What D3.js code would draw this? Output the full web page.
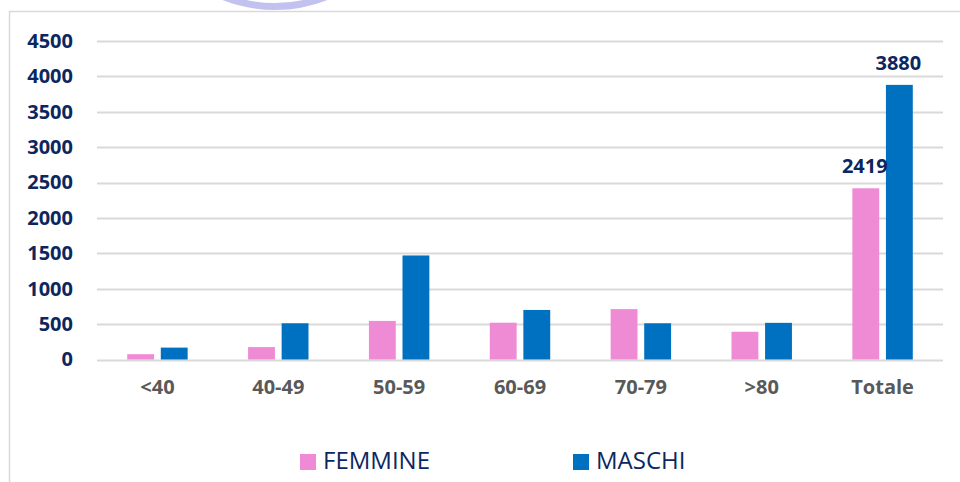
<!DOCTYPE html>
<html>
<head>
<meta charset="utf-8">
<script src="https://cdn.jsdelivr.net/npm/d3@7"></script>
<style>
    body { margin: 0; background: #fff; }
    svg { display: block; font-family: "Open Sans", sans-serif; }
</style>
</head>
<body>
<svg width="960" height="482"></svg>
<script>
// age classes and the two series
var categories = ["<40", "40-49", "50-59", "60-69", "70-79", ">80", "Totale"];
var series = ["FEMMINE", "MASCHI"];
var femmine = [75, 175, 545, 520, 712, 392, 2419];
var maschi = [168, 512, 1470, 700, 512, 518, 3880];
var yTicks = [0, 500, 1000, 1500, 2000, 2500, 3000, 3500, 4000, 4500];
var labelled = ["Totale"]; // only the totals carry value labels

var colors = { FEMMINE: "#ef8bd5", MASCHI: "#0070c0" };

var svg = d3.select("svg"),
    margin = { top: 41, right: 17, bottom: 122.5, left: 97 },
    width = +svg.attr("width") - margin.left - margin.right,
    height = +svg.attr("height") - margin.top - margin.bottom;

// faint logo ring peeking in above the frame
svg.append("clipPath").attr("id", "topclip")
    .append("rect").attr("x", 0).attr("y", 0).attr("width", 960).attr("height", 11);

svg.append("circle")
    .attr("clip-path", "url(#topclip)")
    .attr("cx", 275)
    .attr("cy", -133)
    .attr("r", 139.5)
    .attr("fill", "none")
    .attr("stroke", "#c2c2f0")
    .attr("stroke-width", 7);

// frame of the pasted chart
svg.append("path")
    .attr("d", "M9.5,482 V11.5 H960")
    .attr("fill", "none")
    .attr("stroke", "#d9d9d9")
    .attr("stroke-width", 1.5);

var g = svg.append("g").attr("transform", "translate(" + margin.left + "," + margin.top + ")");

var x0 = d3.scaleBand()
    .domain(categories)
    .range([0, width])
    .paddingInner(0.5)
    .paddingOuter(0.25);

var x1 = d3.scaleBand()
    .domain(series)
    .range([0, x0.bandwidth()])
    .paddingInner(0.2);

var y = d3.scaleLinear()
    .domain([0, 4500])
    .range([height, 0]);

// gridlines
g.append("g")
    .selectAll("line")
    .data(yTicks)
    .enter().append("line")
    .attr("x1", 0)
    .attr("x2", width)
    .attr("y1", function (d) { return Math.round(y(d)) + 0.5; })
    .attr("y2", function (d) { return Math.round(y(d)) + 0.5; })
    .attr("stroke", "#d9d9d9")
    .attr("stroke-width", 2);

// y axis labels
var yAxis = g.append("g")
    .call(d3.axisLeft(y).tickValues(yTicks).tickFormat(d3.format("d")).tickSize(0).tickPadding(24));
yAxis.select(".domain").remove();
yAxis.selectAll("text")
    .attr("fill", "#0c2760")
    .style("font-size", "20px")
    .style("font-weight", "700")
    .style("font-family", "'Open Sans', sans-serif");

// x axis labels
var xAxis = g.append("g")
    .attr("transform", "translate(0," + height + ")")
    .call(d3.axisBottom(x0).tickSize(0).tickPadding(20));
xAxis.select(".domain").remove();
xAxis.selectAll("text")
    .attr("fill", "#595959")
    .style("font-size", "20px")
    .style("font-weight", "700")
    .style("font-family", "'Open Sans', sans-serif");

var rows = categories.map(function (c, i) {
    return { cat: c, values: [
        { key: "FEMMINE", value: femmine[i] },
        { key: "MASCHI", value: maschi[i] }
    ] };
});

var groups = g.selectAll(".grp")
    .data(rows)
    .enter().append("g")
    .attr("class", "grp")
    .attr("transform", function (d) { return "translate(" + x0(d.cat) + ",0)"; });

groups.selectAll("rect")
    .data(function (d) { return d.values; })
    .enter().append("rect")
    .attr("x", function (d) { return x1(d.key); })
    .attr("width", x1.bandwidth())
    .attr("y", function (d) { return y(d.value); })
    .attr("height", function (d) { return height - y(d.value); })
    .attr("fill", function (d) { return colors[d.key]; });

// value labels on the totals
groups.filter(function (d) { return labelled.indexOf(d.cat) >= 0; })
    .selectAll(".lbl")
    .data(function (d) { return d.values; })
    .enter().append("text")
    .attr("class", "lbl")
    .attr("x", function (d) { return x1(d.key) + x1.bandwidth() / 2 - 1; })
    .attr("y", function (d) { return y(d.value) - 15; })
    .attr("text-anchor", "middle")
    .attr("fill", "#0c2760")
    .style("font-size", "20px")
    .style("font-weight", "700")
    .text(function (d) { return d.value; });

// legend
var legendX = [300, 573];
var legend = svg.append("g")
    .selectAll("g")
    .data(series)
    .enter().append("g")
    .attr("transform", function (d, i) { return "translate(" + legendX[i] + ",454)"; });

legend.append("rect")
    .attr("width", 16)
    .attr("height", 16)
    .attr("fill", function (d) { return colors[d]; });

legend.append("text")
    .attr("x", 23)
    .attr("y", 15)
    .attr("fill", "#0c2760")
    .style("font-size", "24px")
    .text(function (d) { return d; });
</script>
</body>
</html>
